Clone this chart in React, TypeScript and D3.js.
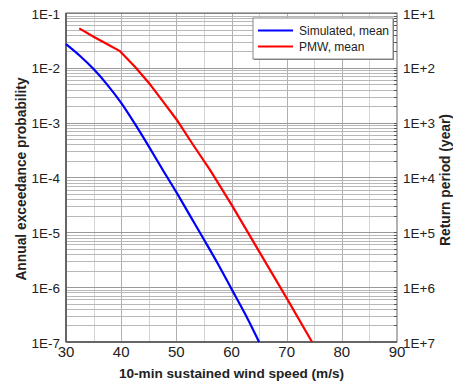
import React, { useEffect, useRef } from 'react';
import * as d3 from 'd3';

// wind speed (m/s) and annual exceedance probability
const simSpeed = [30, 32.5, 35, 37.5, 40, 42.5, 45, 47.5, 50, 52.5, 55, 57.5, 60, 62.5, 65];
const simProb = [2.7e-2, 1.66e-2, 9.5e-3, 4.9e-3, 2.3e-3, 9.5e-4, 3.7e-4, 1.4e-4, 5.4e-5, 2.0e-5, 7.4e-6, 2.7e-6, 9.3e-7, 3.2e-7, 1e-7];

const pmwSpeed = [32.4, 35, 37.5, 39.7, 42.5, 45.3, 47.5, 50.1, 53, 56.1, 60, 65, 70, 74.6];
const pmwProb = [5.25e-2, 3.7e-2, 2.7e-2, 2.04e-2, 1.05e-2, 4.9e-3, 2.5e-3, 1.12e-3, 4.0e-4, 1.38e-4, 3.2e-5, 4.5e-6, 6.3e-7, 1e-7];

const xTicks = [30, 40, 50, 60, 70, 80, 90];
const xGridMinor = [35, 45, 55, 65, 75, 85];
const xGridMajor = [40, 50, 60, 70, 80];
const leftLabels = ['1E-1', '1E-2', '1E-3', '1E-4', '1E-5', '1E-6', '1E-7'];
const rightLabels = ['1E+1', '1E+2', '1E+3', '1E+4', '1E+5', '1E+6', '1E+7'];
const decades = [1e-1, 1e-2, 1e-3, 1e-4, 1e-5, 1e-6, 1e-7];

const seriesNames = ['Simulated, mean', 'PMW, mean'];
const seriesColors = ['#0000ff', '#ff0000'];

const W = 453;
const H = 382;
const margin = { top: 13, right: 56, bottom: 40, left: 66 };

const App = () => {
  const ref = useRef<SVGSVGElement>(null);

  useEffect(() => {
    const svg = d3.select(ref.current);
    svg.selectAll('*').remove();

    const font = 'Liberation Sans, Arial, sans-serif';
    const x = d3.scaleLinear().domain([30, 90]).range([margin.left, W - margin.right]);
    const y = d3.scaleLog().domain([1e-1, 1e-7]).range([margin.top, H - margin.bottom]);

    // minor log grid
    const minors: number[] = [];
    decades.slice(1).forEach((d) => {
      for (let k = 2; k <= 9; k++) minors.push(d * k);
    });

    const hGrid = (vals: number[], color: string) =>
      svg.append('g')
        .selectAll('line')
        .data(vals)
        .enter()
        .append('line')
        .attr('x1', x(30))
        .attr('x2', x(90))
        .attr('y1', (d) => Math.round(y(d)) + 0.5)
        .attr('y2', (d) => Math.round(y(d)) + 0.5)
        .attr('stroke', color)
        .attr('stroke-width', 1);

    const vGrid = (vals: number[], color: string) =>
      svg.append('g')
        .selectAll('line')
        .data(vals)
        .enter()
        .append('line')
        .attr('x1', (d) => Math.round(x(d)) + 0.5)
        .attr('x2', (d) => Math.round(x(d)) + 0.5)
        .attr('y1', y(1e-1))
        .attr('y2', y(1e-7))
        .attr('stroke', color)
        .attr('stroke-width', 1);

    vGrid(xGridMinor, '#d4d4d4');
    vGrid(xGridMajor, '#b0b0b0');
    hGrid(minors, '#b8b8b8');
    hGrid(decades, '#999');

    // right axis minor ticks, inward
    svg.append('g')
      .selectAll('line')
      .data(minors.concat(decades))
      .enter()
      .append('line')
      .attr('x1', x(90) - 3)
      .attr('x2', x(90))
      .attr('y1', (d) => Math.round(y(d)) + 0.5)
      .attr('y2', (d) => Math.round(y(d)) + 0.5)
      .attr('stroke', '#555')
      .attr('stroke-width', 1);

    // frame
    svg.append('rect')
      .attr('x', x(30))
      .attr('y', y(1e-1))
      .attr('width', x(90) - x(30))
      .attr('height', y(1e-7) - y(1e-1))
      .attr('fill', 'none')
      .attr('stroke', '#666')
      .attr('stroke-width', 1);
    svg.append('line')
      .attr('x1', x(30)).attr('x2', x(30))
      .attr('y1', y(1e-1)).attr('y2', y(1e-7))
      .attr('stroke', '#666').attr('stroke-width', 2);
    svg.append('line')
      .attr('x1', x(30)).attr('x2', x(90))
      .attr('y1', y(1e-7)).attr('y2', y(1e-7))
      .attr('stroke', '#666').attr('stroke-width', 2);

    // curves
    const simLine = d3.line<[number, number]>()
      .x((d) => x(d[0]))
      .y((d) => y(d[1]))
      .curve(d3.curveMonotoneX);
    const pmwLine = d3.line<[number, number]>()
      .x((d) => x(d[0]))
      .y((d) => y(d[1]));

    const simData = simSpeed.map((s, i) => [s, simProb[i]] as [number, number]);
    const pmwData = pmwSpeed.map((s, i) => [s, pmwProb[i]] as [number, number]);

    svg.append('path')
      .datum(simData)
      .attr('d', simLine)
      .attr('fill', 'none')
      .attr('stroke', seriesColors[0])
      .attr('stroke-width', 2.2);
    svg.append('path')
      .datum(pmwData)
      .attr('d', pmwLine)
      .attr('fill', 'none')
      .attr('stroke', seriesColors[1])
      .attr('stroke-width', 2.2)
      .attr('stroke-linejoin', 'round');

    // tick labels
    svg.append('g')
      .selectAll('text')
      .data(xTicks)
      .enter()
      .append('text')
      .attr('x', (d) => x(d))
      .attr('y', 357)
      .attr('text-anchor', 'middle')
      .style('font', `15px ${font}`)
      .attr('fill', '#222')
      .text((d) => d);

    svg.append('g')
      .selectAll('text')
      .data(decades)
      .enter()
      .append('text')
      .attr('x', x(30) - 6)
      .attr('y', (d) => y(d) + 5.5)
      .attr('text-anchor', 'end')
      .style('font', `13.5px ${font}`)
      .attr('fill', '#222')
      .text((d, i) => leftLabels[i]);

    svg.append('g')
      .selectAll('text')
      .data(decades)
      .enter()
      .append('text')
      .attr('x', x(90) + 6)
      .attr('y', (d) => y(d) + 5.5)
      .attr('text-anchor', 'start')
      .style('font', `13.5px ${font}`)
      .attr('fill', '#222')
      .text((d, i) => rightLabels[i]);

    // axis titles
    svg.append('text')
      .attr('x', (x(30) + x(90)) / 2)
      .attr('y', 378)
      .attr('text-anchor', 'middle')
      .style('font', `bold 13.6px ${font}`)
      .attr('fill', '#222')
      .text('10-min sustained wind speed (m/s)');

    svg.append('text')
      .attr('transform', `translate(26,179) rotate(-90)`)
      .attr('text-anchor', 'middle')
      .style('font', `bold 13.8px ${font}`)
      .attr('fill', '#222')
      .text('Annual exceedance probability');

    svg.append('text')
      .attr('transform', `translate(450,180) rotate(-90)`)
      .attr('text-anchor', 'middle')
      .style('font', `bold 13.8px ${font}`)
      .attr('fill', '#222')
      .text('Return period (year)');

    // legend
    const lg = svg.append('g').attr('transform', 'translate(253,18)');
    lg.append('rect')
      .attr('x', 1).attr('y', 1)
      .attr('width', 140).attr('height', 41)
      .attr('fill', '#777');
    lg.append('rect')
      .attr('width', 140).attr('height', 41)
      .attr('fill', '#fff')
      .attr('stroke', '#888')
      .attr('stroke-width', 1);
    seriesNames.forEach((name, i) => {
      lg.append('line')
        .attr('x1', 5).attr('x2', 40)
        .attr('y1', 12.5 + i * 16).attr('y2', 12.5 + i * 16)
        .attr('stroke', seriesColors[i])
        .attr('stroke-width', 2);
      lg.append('text')
        .attr('x', 46)
        .attr('y', 17 + i * 16)
        .style('font', `12px ${font}`)
        .attr('fill', '#222')
        .text(name);
    });
  }, []);

  return (
    <div style={{ position: 'absolute', left: 0, top: 0 }}>
      <svg ref={ref} width={W} height={H} style={{ display: 'block', background: '#fff' }} />
    </div>
  );
};

export default App;
